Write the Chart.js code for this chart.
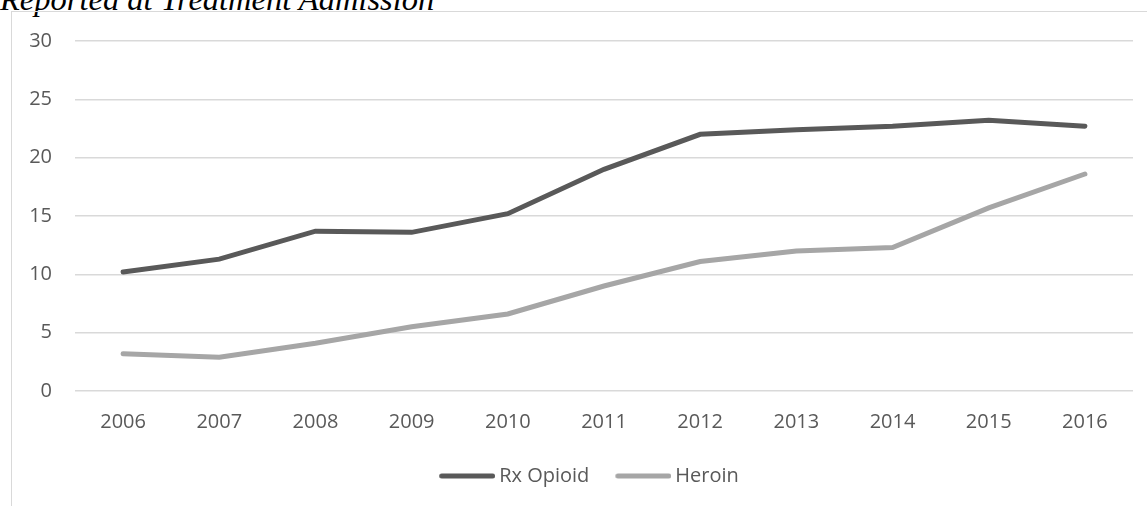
<!DOCTYPE html>
<html>
<head>
<meta charset="utf-8">
<script src="https://cdn.jsdelivr.net/npm/chart.js@4"></script>
<style>
  body { margin: 0; background: #fff; overflow: hidden; }
  #title {
    position: absolute; left: 0; top: -19px; line-height: 32px;
    font: italic 32.5px "Liberation Serif", serif; color: #000;
    white-space: nowrap;
  }
  #box {
    position: absolute; left: 11px; top: 11px; width: 1136px; height: 495px;
    border-top: 1px solid #d9d9d9; border-left: 1px solid #d9d9d9;
    box-sizing: border-box;
  }
  #wrap { position: absolute; left: 0; top: -6px; width: 1135px; height: 500px; }
</style>
</head>
<body>
<div id="title">Reported at Treatment Admission</div>
<div id="box"><div id="wrap"><canvas id="chart"></canvas></div></div>
<script>
// values
const years = ['2006', '2007', '2008', '2009', '2010', '2011', '2012', '2013', '2014', '2015', '2016'];
const rxOpioid = [10.2, 11.3, 13.7, 13.6, 15.2, 19.0, 22.0, 22.4, 22.7, 23.2, 22.7];
const heroin = [3.2, 2.9, 4.1, 5.5, 6.6, 9.0, 11.1, 12.0, 12.3, 15.7, 18.6];
const yTicks = [0, 5, 10, 15, 20, 25, 30];

const tickFont = { family: '"Open Sans", "Liberation Sans", sans-serif', size: 20 };

// legend swatch: a round-capped line that sits close to its label
function swatch(color) {
    const c = document.createElement('canvas');
    c.width = 60; c.height = 10;
    const g = c.getContext('2d');
    g.strokeStyle = color;
    g.lineWidth = 5;
    g.lineCap = 'round';
    g.beginPath();
    g.moveTo(6.5, 5);
    g.lineTo(57.5, 5);
    g.stroke();
    return c;
}

// nudge the legend a little to the right, like the original
const legendShift = {
    id: 'legendShift',
    afterLayout(chart) {
        if (chart.legend) chart.legend.left += 18;
    }
};

new Chart(document.getElementById('chart'), {
    type: 'line',
    data: {
        labels: years,
        datasets: [{
            label: 'Rx Opioid',
            data: rxOpioid,
            borderColor: '#595959',
            backgroundColor: '#595959',
            borderWidth: 5,
            borderCapStyle: 'round',
            pointRadius: 0,
            pointStyle: swatch('#595959'),
            fill: false
        }, {
            label: 'Heroin',
            data: heroin,
            borderColor: '#a6a6a6',
            backgroundColor: '#a6a6a6',
            borderWidth: 5,
            borderCapStyle: 'round',
            pointRadius: 0,
            pointStyle: swatch('#a6a6a6'),
            fill: false
        }]
    },
    plugins: [legendShift],
    options: {
        responsive: true,
        maintainAspectRatio: false,
        animation: false,
        layout: { padding: { left: 17, right: 14, top: 4, bottom: 10 } },
        plugins: {
            legend: {
                position: 'bottom',
                labels: {
                    usePointStyle: true,
                    pointStyleWidth: 48,
                    color: '#595959',
                    font: tickFont,
                    padding: 28
                }
            },
            tooltip: { enabled: false }
        },
        scales: {
            x: {
                offset: true,
                grid: { display: false },
                border: { display: false },
                ticks: { color: '#595959', font: tickFont, padding: 11 },
                afterFit: s => { s.height = 47; }
            },
            y: {
                min: 0,
                max: 30,
                afterBuildTicks: axis => { axis.ticks = yTicks.map(v => ({ value: v })); },
                grid: { color: '#d9d9d9', lineWidth: 1.5, drawTicks: false },
                border: { display: false },
                ticks: { color: '#595959', font: tickFont, padding: 23 },
                afterFit: s => { s.width = 46; }
            }
        }
    }
});
</script>
</body>
</html>
